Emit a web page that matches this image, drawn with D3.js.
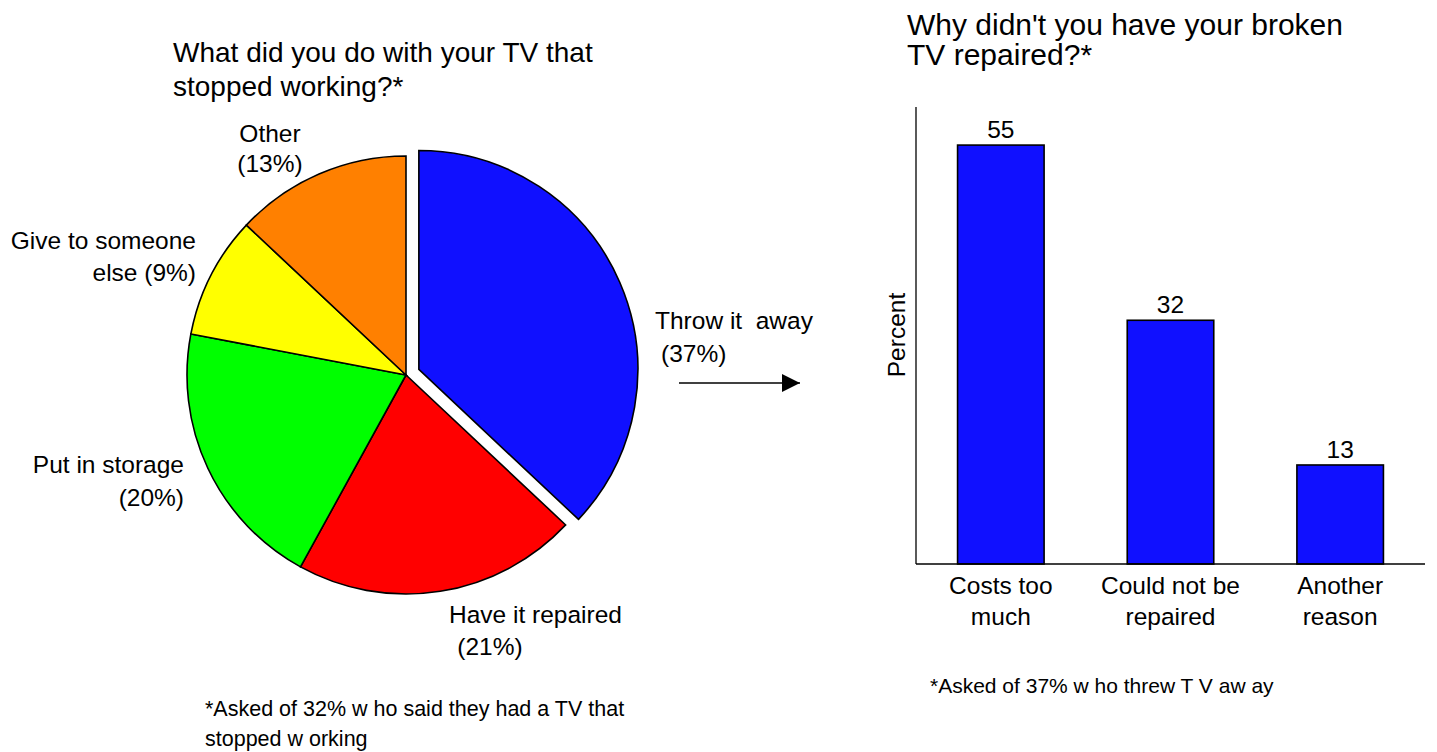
<!DOCTYPE html>
<html>
<head>
<meta charset="utf-8">
<script src="https://cdn.jsdelivr.net/npm/d3@7"></script>
<style>
  html, body { margin: 0; padding: 0; background: #fff; }
  svg text { font-family: "Liberation Sans", Arial, sans-serif; fill: #000; }
</style>
</head>
<body>
<svg id="chart" width="1437" height="752"></svg>
<script>
// Pie: what people did with a TV that stopped working (percent)
const pieCategories = ["Throw it away", "Have it repaired", "Put in storage", "Give to someone else", "Other"];
const pieValues = [37, 21, 20, 9, 13];
const pieColors = ["#1010ff", "#ff0000", "#00ff00", "#ffff00", "#ff8000"];

// Bars: reasons for not repairing (percent)
const barCategories = ["Costs too much", "Could not be repaired", "Another reason"];
const barValues = [55, 32, 13];
const barLabelLines = [["Costs too", "much"], ["Could not be", "repaired"], ["Another", "reason"]];
const yTicksMax = 60;

const svg = d3.select("#chart");

// ---------- Pie ----------
const cx = 406, cy = 375, radius = 219, explode = 14;
const pie = d3.pie().sort(null).value(d => d)(pieValues);
const arc = d3.arc().innerRadius(0).outerRadius(radius);

const pieG = svg.append("g").attr("transform", `translate(${cx},${cy})`);
pieG.selectAll("path")
  .data(pie)
  .join("path")
  .attr("d", arc)
  .attr("fill", (d, i) => pieColors[i])
  .attr("stroke", "#000")
  .attr("stroke-width", 1.6)
  .attr("stroke-linejoin", "miter")
  .attr("transform", (d, i) => {
    if (i !== 0) return null;
    const a = (d.startAngle + d.endAngle) / 2;
    return `translate(${explode * Math.sin(a)},${-explode * Math.cos(a)})`;
  });

function label(x, y, lines, anchor, size, dy) {
  const t = svg.append("text")
    .attr("x", x).attr("y", y)
    .attr("text-anchor", anchor)
    .style("font-size", size + "px");
  lines.forEach((l, i) => {
    t.append("tspan").attr("x", x).attr("dy", i === 0 ? 0 : dy).text(l);
  });
  return t;
}

const LBL = 24.5;

// Pie title and slice labels
label(173, 62, ["What did you do with your TV that", "stopped working?*"], "start", 28, 34);
label(270, 142, ["Other", `(${pieValues[4]}%)`], "middle", LBL, 30);
label(196, 249, ["Give to someone", `else (${pieValues[3]}%)`], "end", LBL, 32);
label(184, 473, ["Put in storage", `(${pieValues[2]}%)`], "end", LBL, 33);
label(449, 623, ["Have it repaired"], "start", LBL, 0);
label(490, 655, [`(${pieValues[1]}%)`], "middle", LBL, 0);
label(655, 329, ["Throw it\u00a0 away"], "start", LBL, 0);
label(661, 362, [`(${pieValues[0]}%)`], "start", LBL, 0);
label(205, 716, ["*Asked of 32% w ho said they had a TV that", "stopped w orking"], "start", 21.5, 30);

// Arrow pointing to the bar chart
svg.append("defs").append("marker")
  .attr("id", "arrowhead")
  .attr("viewBox", "0 0 10 10")
  .attr("refX", 10).attr("refY", 5)
  .attr("markerWidth", 20).attr("markerHeight", 18)
  .attr("markerUnits", "userSpaceOnUse")
  .attr("orient", "auto")
  .append("path").attr("d", "M0,0 L10,5 L0,10 Z").attr("fill", "#000");
svg.append("line")
  .attr("x1", 679).attr("y1", 383).attr("x2", 800).attr("y2", 383)
  .attr("stroke", "#000").attr("stroke-width", 1.6)
  .attr("marker-end", "url(#arrowhead)");

// ---------- Bars ----------
const plotLeft = 916, plotRight = 1425, plotTop = 107, plotBottom = 564;
const x = d3.scaleBand().domain(barCategories).range([plotLeft, plotRight])
  .paddingInner(0.49).paddingOuter(0.245);
const y = d3.scaleLinear().domain([0, yTicksMax]).range([plotBottom, plotTop]);

svg.append("g").selectAll("rect")
  .data(barValues)
  .join("rect")
  .attr("x", (d, i) => x(barCategories[i]))
  .attr("y", d => y(d))
  .attr("width", x.bandwidth())
  .attr("height", d => y(0) - y(d))
  .attr("fill", "#1010ff")
  .attr("stroke", "#000")
  .attr("stroke-width", 1.6);

// Axes: plain lines, no ticks
svg.append("line").attr("x1", plotLeft).attr("x2", plotLeft)
  .attr("y1", plotTop).attr("y2", plotBottom).attr("stroke", "#000").attr("stroke-width", 1.3);
svg.append("line").attr("x1", plotLeft).attr("x2", plotRight)
  .attr("y1", plotBottom).attr("y2", plotBottom).attr("stroke", "#000").attr("stroke-width", 1.6);

// Value labels
svg.append("g").selectAll("text")
  .data(barValues)
  .join("text")
  .attr("x", (d, i) => x(barCategories[i]) + x.bandwidth() / 2)
  .attr("y", d => y(d) - 7)
  .attr("text-anchor", "middle")
  .style("font-size", LBL + "px")
  .text(d => d);

// Category labels
barLabelLines.forEach((lines, i) => {
  label(x(barCategories[i]) + x.bandwidth() / 2, 594, lines, "middle", LBL, 31);
});

// Y axis title
svg.append("text")
  .attr("transform", "translate(905,335) rotate(-90)")
  .attr("text-anchor", "middle")
  .style("font-size", LBL + "px")
  .text("Percent");

label(907, 35, ["Why didn't you have your broken", "TV repaired?*"], "start", 30, 30);
label(930, 693, ["*Asked of 37% w ho threw T V aw ay"], "start", 21, 0);
</script>
</body>
</html>
